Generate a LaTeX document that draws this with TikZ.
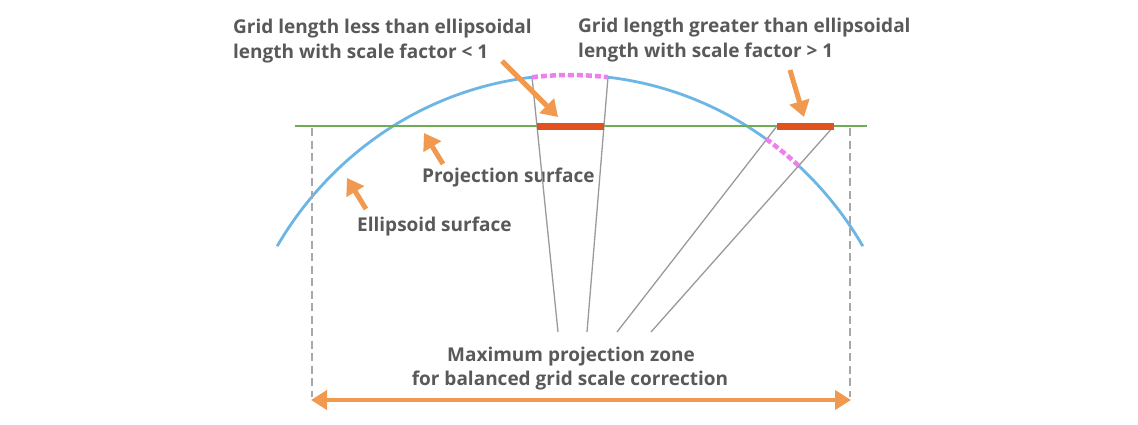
\documentclass[tikz,border=0pt]{standalone}
\usepackage{fontspec}
\setmainfont{Open Sans}
\usetikzlibrary{arrows.meta}
\definecolor{txt}{HTML}{595959}
\definecolor{ellblue}{HTML}{6CB6E6}
\definecolor{projgreen}{HTML}{6FAD55}
\definecolor{barred}{HTML}{E2521F}
\definecolor{magpink}{HTML}{EE80EE}
\definecolor{orng}{HTML}{F19A4F}
\definecolor{rayg}{HTML}{9A9A9A}
\definecolor{dashg}{HTML}{A8A8A8}
\begin{document}
\begin{tikzpicture}[x=1pt,y=1pt,
  lbl/.style={font=\bfseries\fontsize{19}{23}\selectfont, text=txt, inner sep=0pt},
  ellline/.style={draw=ellblue, line width=2.8pt},
  projline/.style={draw=projgreen, line width=2.6pt},
  barline/.style={draw=barred, line width=7pt},
  magdash/.style={draw=magpink, line width=4.5pt, dash pattern=on 6pt off 3pt},
  rayline/.style={draw=rayg, line width=1.3pt},
  limline/.style={draw=dashg, line width=2.5pt, dash pattern=on 8pt off 4.5pt},
  pointer/.style={draw=orng, line width=5pt, -{Triangle[length=16pt,width=20pt]}},
  spanarrow/.style={draw=orng, line width=4pt, {Triangle[length=16pt,width=19pt]}-{Triangle[length=16pt,width=19pt]}}
]
\fill[white] (0,0) rectangle (1138,-424);
\useasboundingbox (0,0) rectangle (1138,-424);

% ellipse centre and key points
\coordinate (C) at (570,-429);
\path (C) ++(96.38:342 and 354) coordinate (t1);
\path (C) ++(83.62:342 and 354) coordinate (t2);
\path (C) ++(55.0:342 and 354) coordinate (m1);
\path (C) ++(48.1:342 and 354) coordinate (m2);
\path (C) ++(148.9:342 and 354) coordinate (eL);

% labels
\node[lbl,anchor=base west] (lessA) at (233,-33) {Grid length less than ellipsoidal};
\node[lbl,anchor=base west] (lessB) at (233,-58) {length with scale factor < 1};
\node[lbl,anchor=base west] (moreA) at (578,-32) {Grid length greater than ellipsoidal};
\node[lbl,anchor=base west] (moreB) at (578,-57) {length with scale factor > 1};
\node[lbl,anchor=base west] (proj) at (422,-182) {Projection surface};
\node[lbl,anchor=base west] (ell) at (357,-231) {Ellipsoid surface};
\node[lbl,anchor=base] (zoneA) at (571,-361) {Maximum projection zone};
\node[lbl,anchor=base] (zoneB) at (570,-385) {for balanced grid scale correction};

% coordinates
\coordinate (g1) at (295,-126);
\coordinate (g2) at (867,-126);
\coordinate (ra1) at (537,-126);
\coordinate (ra2) at (604,-126);
\coordinate (rb1) at (777,-126);
\coordinate (rb2) at (834,-126);
\coordinate (b1) at (558,-332);
\coordinate (b2) at (587,-332);
\coordinate (b3) at (617,-332);
\coordinate (b4) at (651,-332);
\coordinate (dl1) at (312,-128);
\coordinate (dl2) at (312,-397);
\coordinate (dr1) at (850,-128);
\coordinate (dr2) at (850,-397);
\coordinate (sl) at (311,-400);
\coordinate (sr) at (851,-400);
\coordinate (p1s) at (502,-61);
\coordinate (p1e) at (558,-117);
\coordinate (p2s) at (790,-70);
\coordinate (p2e) at (804,-117);
\coordinate (p3s) at (443,-164);
\coordinate (p3e) at (424,-133);
\coordinate (p4s) at (366,-209);
\coordinate (p4e) at (347,-178);

% ellipsoid surface (interrupted where the ellipsoidal lengths are shown)
\draw[ellline] (eL) arc[start angle=148.9, end angle=96.38, x radius=342, y radius=354];
\draw[ellline] (t2) arc[start angle=83.62, end angle=55.0, x radius=342, y radius=354];
\draw[ellline] (m2) arc[start angle=48.1, end angle=31.1, x radius=342, y radius=354];
% projection surface
\draw[projline] (g1) -- (g2);
% rays
\draw[rayline] (t1) -- (b1);
\draw[rayline] (t2) -- (b2);
\draw[rayline] (rb1) -- (b3);
\draw[rayline] (rb2) -- (b4);
% grid lengths
\draw[barline] (ra1) -- (ra2);
\draw[barline] (rb1) -- (rb2);
% ellipsoidal lengths
\draw[magdash] (t1) arc[start angle=96.38, end angle=83.62, x radius=342, y radius=354];
\draw[magdash] (m1) arc[start angle=55.0, end angle=48.1, x radius=342, y radius=354];
% zone limits
\draw[limline] (dl1) -- (dl2);
\draw[limline] (dr1) -- (dr2);
\draw[spanarrow] (sl) -- (sr);
% pointers
\draw[pointer] (p1s) -- (p1e);
\draw[pointer] (p2s) -- (p2e);
\draw[pointer] (p3s) -- (p3e);
\draw[pointer] (p4s) -- (p4e);
\end{tikzpicture}
\end{document}
